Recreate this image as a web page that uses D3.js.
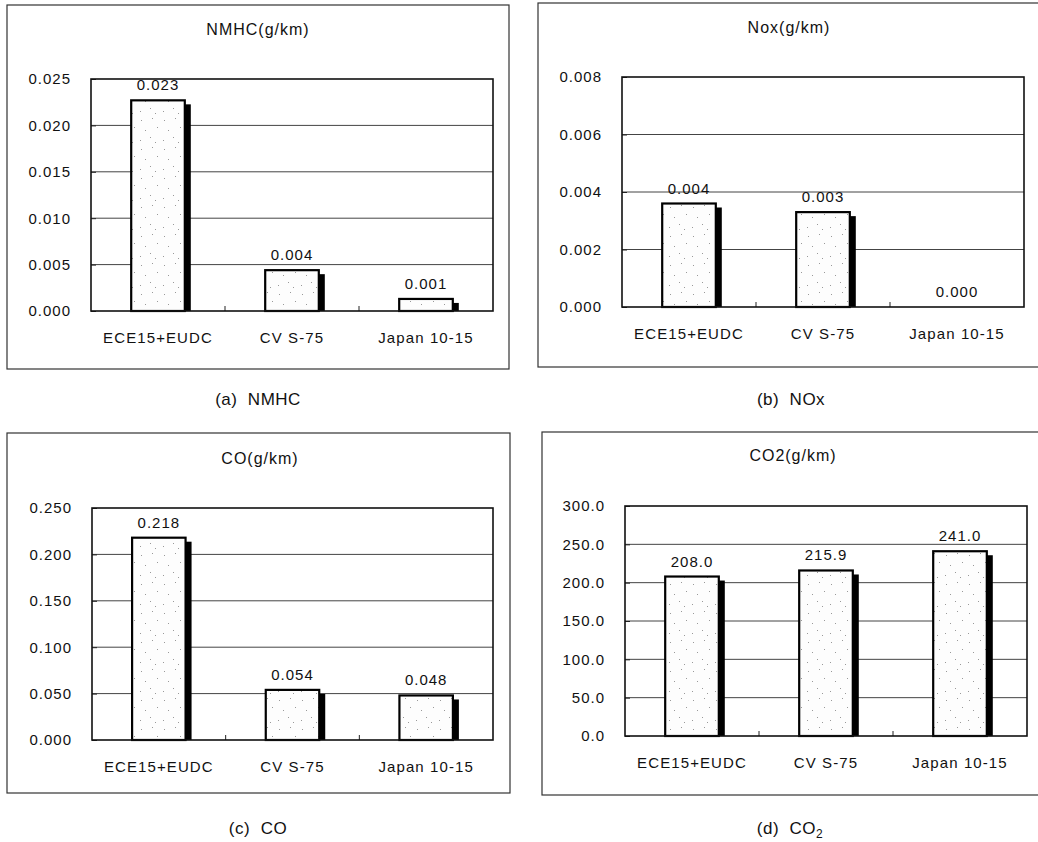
<!DOCTYPE html>
<html>
<head>
<meta charset="utf-8">
<script src="https://cdn.jsdelivr.net/npm/d3@7/dist/d3.min.js"></script>
<style>
  html, body { margin: 0; padding: 0; background: #fff; }
  svg { display: block; }
  text { font-family: "Liberation Sans", Arial, sans-serif; fill: #111; }
</style>
</head>
<body>
<svg id="chart" width="1038" height="842"></svg>
<script>
// ---------- data ----------
const categories = ["ECE15+EUDC", "CV S-75", "Japan 10-15"];
const nmhcValues = [0.0227, 0.0044, 0.0013];
const noxValues  = [0.0036, 0.0033, 0.0000];
const coValues   = [0.218, 0.054, 0.048];
const co2Values  = [208.0, 215.9, 241.0];
const nmhcTicks = [0, 0.005, 0.010, 0.015, 0.020, 0.025];
const noxTicks  = [0, 0.002, 0.004, 0.006, 0.008];
const coTicks   = [0, 0.050, 0.100, 0.150, 0.200, 0.250];
const co2Ticks  = [0, 50, 100, 150, 200, 250, 300];
const titles   = ["NMHC(g/km)", "Nox(g/km)", "CO(g/km)", "CO2(g/km)"];
const captions = ["(a)  NMHC", "(b)  NOx", "(c)  CO", "(d)  CO"];

// ---------- layout ----------
const panels = [
  { values: nmhcValues, ticks: nmhcTicks, fmt: ".3f", title: titles[0], caption: captions[0],
    box: [7, 5, 509, 369], plot: [91, 79, 493, 311], titleX: 258, titleY: 35, capX: 258, capY: 405 },
  { values: noxValues, ticks: noxTicks, fmt: ".3f", title: titles[1], caption: captions[1],
    box: [538, 3, 1045, 367], plot: [622, 77, 1024, 307], titleX: 789, titleY: 33, capX: 791, capY: 405 },
  { values: coValues, ticks: coTicks, fmt: ".3f", title: titles[2], caption: captions[2],
    box: [7, 433, 510, 793], plot: [92, 508, 493, 740], titleX: 260, titleY: 464, capX: 258, capY: 834 },
  { values: co2Values, ticks: co2Ticks, fmt: ".1f", title: titles[3], caption: captions[3], sub: "2",
    box: [542, 432, 1045, 795], plot: [625, 506, 1027, 736], titleX: 793, titleY: 461, capX: 790, capY: 834 }
];

const svg = d3.select("#chart");

// stipple pattern for bars
const defs = svg.append("defs");
const pat = defs.append("pattern").attr("id", "stipple")
  .attr("patternUnits", "userSpaceOnUse").attr("width", 23).attr("height", 29);
pat.append("rect").attr("width", 23).attr("height", 29).attr("fill", "#fdfdfd");
const dots = [[3,4],[14,2],[19,11],[7,14],[12,21],[2,24],[17,26]];
pat.selectAll("rect.d").data(dots).join("rect").attr("class", "d")
  .attr("x", d => d[0]).attr("y", d => d[1]).attr("width", 1).attr("height", 1)
  .attr("fill", "#999");

panels.forEach(p => {
  const g = svg.append("g");
  const [bx0, by0, bx1, by1] = p.box;
  const [px0, py0, px1, py1] = p.plot;

  // outer frame
  g.append("rect").attr("x", bx0).attr("y", by0)
    .attr("width", bx1 - bx0).attr("height", by1 - by0)
    .attr("fill", "none").attr("stroke", "#333").attr("stroke-width", 1.2);

  const x = d3.scaleBand().domain(categories).range([px0, px1])
    .paddingInner(0.6).paddingOuter(0.3);
  const y = d3.scaleLinear().domain([p.ticks[0], p.ticks[p.ticks.length - 1]]).range([py1, py0]);
  const fmt = d3.format(p.fmt);

  // gridlines
  g.append("g").selectAll("line").data(p.ticks.slice(1, -1)).join("line")
    .attr("x1", px0).attr("x2", px1)
    .attr("y1", d => y(d)).attr("y2", d => y(d))
    .attr("stroke", "#444").attr("stroke-width", 1);

  // title
  g.append("text").attr("x", p.titleX).attr("y", p.titleY)
    .attr("text-anchor", "middle").style("font-size", "16px").style("letter-spacing", "1px")
    .text(p.title);

  // y axis
  const yAxis = d3.axisLeft(y).tickValues(p.ticks).tickFormat(fmt)
    .tickSizeInner(-5).tickSizeOuter(0).tickPadding(20);
  const ya = g.append("g").attr("transform", `translate(${px0},0)`).call(yAxis);
  ya.select(".domain").remove();
  ya.selectAll("line").attr("stroke", "#222");
  ya.selectAll("text").style("font-size", "15px").style("letter-spacing", "1px")
    .style("font-family", "'Liberation Sans', Arial, sans-serif").attr("fill", "#111");

  // x axis labels
  const xAxis = d3.axisBottom(x).tickSize(0).tickPadding(21);
  const xa = g.append("g").attr("transform", `translate(0,${py1})`).call(xAxis);
  xa.select(".domain").remove();
  xa.selectAll("text").style("font-size", "15px").style("letter-spacing", "1.1px")
    .style("font-family", "'Liberation Sans', Arial, sans-serif").attr("fill", "#111");

  // category boundary ticks on x axis
  const step = x.step();
  g.append("g").selectAll("line").data(categories.slice(1)).join("line")
    .attr("x1", d => x(d) - (step - x.bandwidth()) / 2)
    .attr("x2", d => x(d) - (step - x.bandwidth()) / 2)
    .attr("y1", py1).attr("y2", py1 - 5).attr("stroke", "#222");

  const data = categories.map((c, i) => ({ c, v: p.values[i] }));

  // shadows
  g.append("g").selectAll("rect").data(data.filter(d => d.v > 0)).join("rect")
    .attr("x", d => x(d.c) + 6).attr("y", d => y(d.v) + 4)
    .attr("width", x.bandwidth()).attr("height", d => py1 - y(d.v) - 4)
    .attr("fill", "#000");

  // bars
  g.append("g").selectAll("rect").data(data.filter(d => d.v > 0)).join("rect")
    .attr("x", d => x(d.c)).attr("y", d => y(d.v))
    .attr("width", x.bandwidth()).attr("height", d => py1 - y(d.v))
    .attr("fill", "url(#stipple)").attr("stroke", "#000").attr("stroke-width", 2.2);

  // plot frame
  g.append("rect").attr("x", px0).attr("y", py0)
    .attr("width", px1 - px0).attr("height", py1 - py0)
    .attr("fill", "none").attr("stroke", "#111").attr("stroke-width", 1.6);

  // value labels
  g.append("g").selectAll("text").data(data).join("text")
    .attr("x", d => x(d.c) + x.bandwidth() / 2)
    .attr("y", d => y(d.v) - 10)
    .attr("text-anchor", "middle").style("font-size", "15px").style("letter-spacing", "1px")
    .text(d => fmt(d.v));

  // caption
  const cap = g.append("text").attr("x", p.capX).attr("y", p.capY)
    .attr("text-anchor", "middle").style("font-size", "17px").style("letter-spacing", "0.5px")
    .attr("xml:space", "preserve").style("white-space", "pre")
    .text(p.caption);
  if (p.sub) {
    cap.append("tspan").attr("dy", 4).style("font-size", "12px").text(p.sub);
  }
});
</script>
</body>
</html>
